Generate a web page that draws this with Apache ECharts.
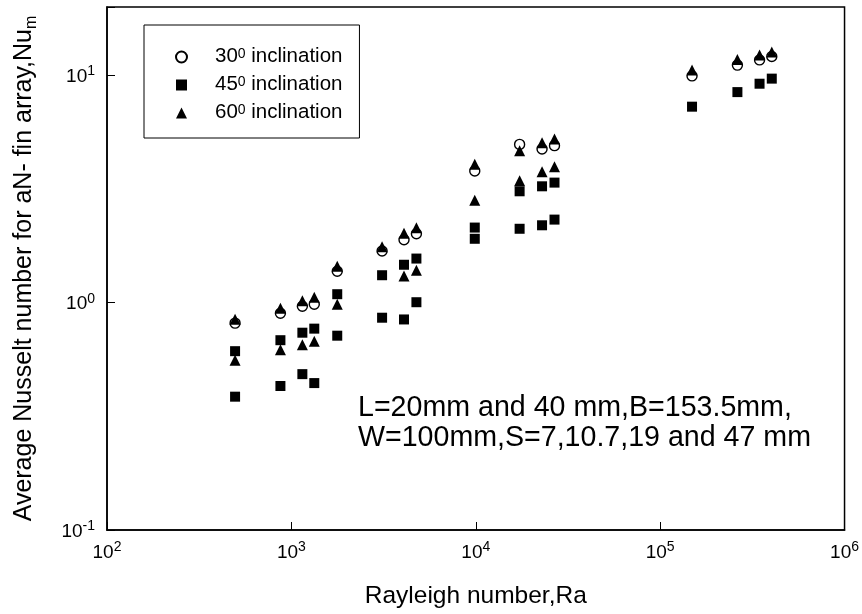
<!DOCTYPE html>
<html><head><meta charset="utf-8">
<script src="https://cdn.jsdelivr.net/npm/echarts@6/dist/echarts.min.js"></script>
<style>html,body{margin:0;padding:0;background:#fff}#chart{width:862px;height:614px}</style>
</head><body><div id="chart"></div>
<script>
const FONT = '"Liberation Sans", Arial, sans-serif';

// Inclination angles (legend)
const inclinations = ['30', '45', '60'];

// 30 degree inclination (hollow circles)
const ra30 = [495, 872, 1147, 1331, 1773, 3104, 4082, 4765, 9876, 17290, 22880, 26730, 148900, 262400, 346000, 403100];
const nu30 = [0.813, 0.899, 0.965, 0.985, 1.375, 1.689, 1.892, 2.011, 3.796, 4.973, 4.742, 4.909, 9.95, 11.10, 11.70, 12.12];

// 45 degree inclination (filled squares)
const ra45 = [495, 495, 872, 872, 1147, 1147, 1331, 1331, 1773, 1773, 3104, 3104, 4082, 4082, 4765, 4765, 9876, 9876, 17290, 17290, 22880, 22880, 26730, 26730, 148900, 262400, 346000, 403100];
const nu45 = [0.612, 0.386, 0.684, 0.430, 0.738, 0.485, 0.769, 0.443, 1.090, 0.716, 1.321, 0.859, 1.469, 0.844, 1.564, 1.005, 2.141, 1.911, 3.092, 2.115, 3.252, 2.191, 3.376, 2.321, 7.286, 8.445, 9.194, 9.68];

// 60 degree inclination (filled triangles)
const ra60 = [495, 495, 872, 872, 1147, 1147, 1331, 1331, 1773, 1773, 3104, 4082, 4082, 4765, 4765, 9876, 9876, 17290, 17290, 22880, 22880, 26730, 26730, 148900, 262400, 346000, 403100];
const nu60 = [0.846, 0.558, 0.946, 0.621, 1.02, 0.654, 1.057, 0.677, 1.447, 0.985, 1.762, 2.021, 1.312, 2.137, 1.390, 4.062, 2.822, 4.658, 3.439, 5.060, 3.766, 5.248, 3.961, 10.57, 11.76, 12.31, 12.69];

// Axis ranges
const xRange = [100, 1000000];
const yRange = [0.1, 20];

const annotation = ['L=20mm and 40 mm,B=153.5mm,', 'W=100mm,S=7,10.7,19 and 47 mm'];

function zip(xs, ys) { return xs.map((x, i) => [x, ys[i]]); }

function powLabel(v) {
  const e = Math.round(Math.log10(v));
  if (Math.abs(Math.log10(v) - e) > 1e-6) return '';
  return '{b|10}{s|' + e + '}';
}

const tickRich = {
  b: { fontFamily: FONT, fontSize: 19, color: '#000', lineHeight: 22, verticalAlign: 'bottom' },
  s: { fontFamily: FONT, fontSize: 14, color: '#000', lineHeight: 22, verticalAlign: 'top' }
};

const chart = echarts.init(document.getElementById('chart'), null, { renderer: 'canvas' });
chart.setOption({
  animation: false,
  backgroundColor: '#fff',
  grid: { left: 107, right: 15, top: 7, bottom: 83, show: true, borderColor: '#000', borderWidth: 1.5, containLabel: false },
  legend: {
    orient: 'vertical', left: 144, top: 25,
    padding: [21, 17, 15, 31], itemGap: 7, itemWidth: 11, itemHeight: 11,
    borderColor: '#000', borderWidth: 1, backgroundColor: '#fff',
    data: inclinations,
    formatter: n => '{p|' + n + '}{s|0}{t| inclination}',
    textStyle: {
      fontFamily: FONT, fontSize: 20.5, color: '#000',
      rich: {
        p: { fontFamily: FONT, fontSize: 20.5, color: '#000', lineHeight: 20, padding: [0, 0, 0, 23], verticalAlign: 'bottom' },
        t: { fontFamily: FONT, fontSize: 20.5, color: '#000', lineHeight: 20, verticalAlign: 'bottom' },
        s: { fontFamily: FONT, fontSize: 14, color: '#000', lineHeight: 20, verticalAlign: 'top' }
      }
    }
  },
  xAxis: {
    type: 'log', logBase: 10, min: xRange[0], max: xRange[1],
    name: 'Rayleigh number,Ra', nameLocation: 'middle', nameGap: 54,
    nameTextStyle: { fontFamily: FONT, fontSize: 24.5, color: '#000' },
    axisLine: { lineStyle: { color: '#000', width: 1.5 } },
    axisTick: { inside: true, length: 8, lineStyle: { color: '#000', width: 1 } },
    minorTick: { show: false },
    splitLine: { show: false },
    axisLabel: { margin: 10, formatter: powLabel, rich: tickRich, fontFamily: FONT, fontSize: 19, color: '#000' }
  },
  yAxis: {
    type: 'log', logBase: 10, min: yRange[0], max: yRange[1],
    name: 'Average Nusselt number for aN- fin array,Nu{sub|m}', nameLocation: 'middle', nameGap: 67, nameRotate: 90,
    nameTextStyle: {
      fontFamily: FONT, fontSize: 25, color: '#000',
      rich: { sub: { fontFamily: FONT, fontSize: 16, color: '#000', verticalAlign: 'bottom', lineHeight: 32 } }
    },
    axisLine: { lineStyle: { color: '#000', width: 1.5 } },
    axisTick: { inside: true, length: 8, lineStyle: { color: '#000', width: 1 } },
    minorTick: { show: false },
    splitLine: { show: false },
    axisLabel: { margin: 12, formatter: powLabel, rich: tickRich, fontFamily: FONT, fontSize: 19, color: '#000' }
  },
  graphic: [{
    type: 'text', left: 358, top: 393, z: 10,
    style: { text: annotation.join('\n'), font: '28.6px "Liberation Sans", Arial, sans-serif', lineHeight: 30, fill: '#000' }
  }],
  series: [
    { name: inclinations[0], type: 'scatter', symbol: 'circle', symbolSize: 10, data: zip(ra30, nu30),
      itemStyle: { color: '#fff', borderColor: '#000', borderWidth: 1.4, opacity: 1 } },
    { name: inclinations[1], type: 'scatter', symbol: 'rect', symbolSize: 10, data: zip(ra45, nu45),
      itemStyle: { color: '#000', opacity: 1 } },
    { name: inclinations[2], type: 'scatter', symbol: 'triangle', symbolSize: 11, data: zip(ra60, nu60),
      itemStyle: { color: '#000', opacity: 1 } }
  ]
});
</script></body></html>
